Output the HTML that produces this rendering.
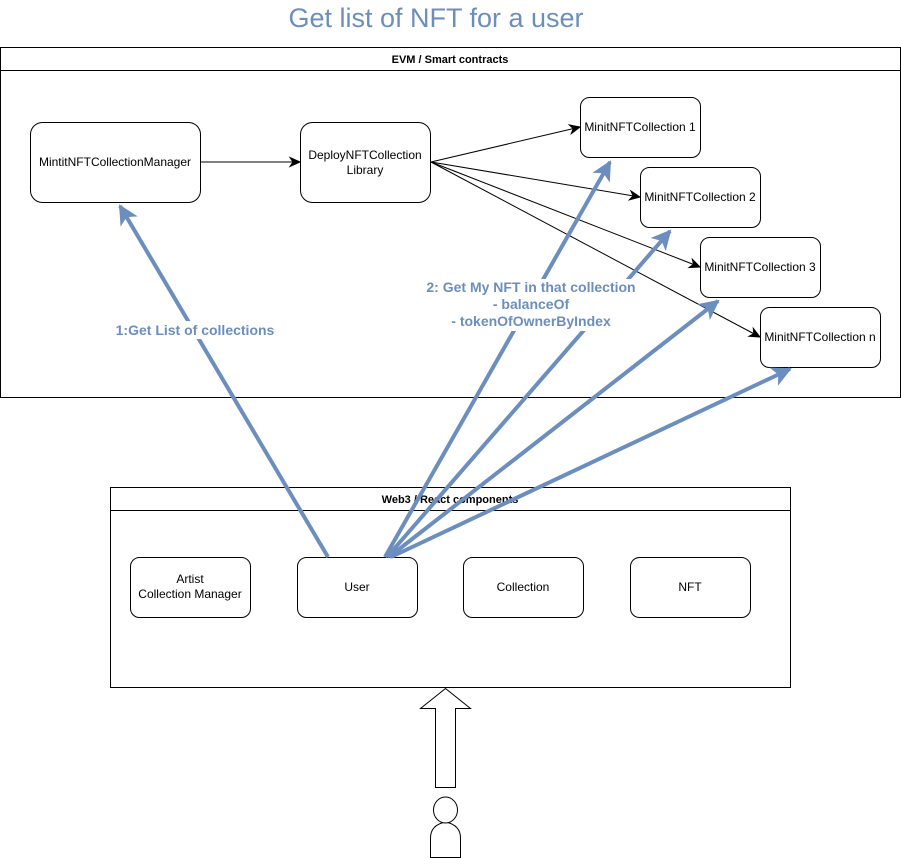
<!DOCTYPE html>
<html><head><meta charset="utf-8"><style>
html,body{margin:0;padding:0;background:#fff;}
svg{display:block;font-family:"Liberation Sans",Arial,sans-serif;}
</style></head><body>
<svg width="901" height="858" viewBox="0 0 901 858" xmlns="http://www.w3.org/2000/svg">
<defs>
<marker id="bk" markerUnits="userSpaceOnUse" markerWidth="12" markerHeight="12" refX="0" refY="0" viewBox="-11 -6 12 12" orient="auto" overflow="visible">
<path d="M0,0 L-10,-4.5 L-7,0 L-10,4.5 Z" fill="#000" stroke="#000" stroke-width="1"/>
</marker>
<marker id="bl" markerUnits="userSpaceOnUse" markerWidth="24" markerHeight="24" refX="0" refY="0" viewBox="-20 -12 24 24" orient="auto" overflow="visible">
<path d="M2,0 L-18,-10 L-13,0 L-18,10 Z" fill="#6c8ebf"/>
</marker>
</defs>
<text x="436" y="27" text-anchor="middle" font-size="27" fill="#6c8ebf">Get list of NFT for a user</text>

<rect x="0.5" y="47.5" width="900" height="350" fill="#fff" stroke="#000"/>
<line x1="0" y1="70.5" x2="901" y2="70.5" stroke="#000"/>
<text x="450" y="63" text-anchor="middle" font-size="11" font-weight="bold">EVM / Smart contracts</text>

<g fill="#fff" stroke="#000">
<rect x="30.5" y="122.5" width="170" height="80" rx="12"/>
<rect x="300.5" y="122.5" width="130" height="80" rx="12"/>
<rect x="580.5" y="97.5" width="120" height="60" rx="9"/>
<rect x="640.5" y="167.5" width="120" height="60" rx="9"/>
<rect x="700.5" y="237.5" width="120" height="60" rx="9"/>
<rect x="760.5" y="307.5" width="120" height="60" rx="9"/>
</g>
<g font-size="12" text-anchor="middle" fill="#000">
<text x="115" y="166">MintitNFTCollectionManager</text>
<text x="365" y="159">DeployNFTCollection</text>
<text x="365" y="174">Library</text>
<text x="640" y="131">MinitNFTCollection 1</text>
<text x="700" y="201">MinitNFTCollection 2</text>
<text x="760" y="271">MinitNFTCollection 3</text>
<text x="820" y="341">MinitNFTCollection n</text>
</g>
<g stroke="#000" stroke-width="1" marker-end="url(#bk)">
<line x1="200" y1="162" x2="300" y2="162"/>
<line x1="431" y1="162" x2="580" y2="127"/>
<line x1="431" y1="162" x2="640" y2="197"/>
<line x1="431" y1="162" x2="700" y2="267"/>
<line x1="431" y1="162" x2="760" y2="337"/>
</g>

<rect x="110.5" y="487.5" width="680" height="200" fill="#fff" stroke="#000"/>
<line x1="110" y1="510.5" x2="791" y2="510.5" stroke="#000"/>
<text x="450" y="503" text-anchor="middle" font-size="11" font-weight="bold">Web3 / React components</text>
<g fill="#fff" stroke="#000">
<rect x="130.5" y="557.5" width="120" height="60" rx="9"/>
<rect x="297.5" y="557.5" width="120" height="60" rx="9"/>
<rect x="463.5" y="557.5" width="120" height="60" rx="9"/>
<rect x="630.5" y="557.5" width="120" height="60" rx="9"/>
</g>
<g font-size="12" text-anchor="middle">
<text x="190" y="583">Artist</text>
<text x="190" y="598">Collection Manager</text>
<text x="357" y="591">User</text>
<text x="523" y="591">Collection</text>
<text x="690" y="591">NFT</text>
</g>

<g stroke="#6c8ebf" stroke-width="4" marker-end="url(#bl)">
<line x1="328" y1="557" x2="120" y2="206"/>
<line x1="385" y1="557" x2="610" y2="162"/>
<line x1="387" y1="557" x2="670" y2="231"/>
<line x1="389" y1="557" x2="718" y2="301"/>
<line x1="391" y1="557" x2="790" y2="369"/>
</g>
<rect x="113" y="321" width="164" height="18" fill="#fff"/>
<text x="195" y="335" text-anchor="middle" font-size="14" font-weight="bold" fill="#6c8ebf">1:Get List of collections</text>
<rect x="422" y="279" width="218" height="52" fill="#fff"/>
<g font-size="14" font-weight="bold" fill="#6c8ebf" text-anchor="middle">
<text x="531" y="292">2: Get My NFT in that collection</text>
<text x="531" y="309">- balanceOf</text>
<text x="531" y="326">- tokenOfOwnerByIndex</text>
</g>

<path d="M435.5,787.5 L455.5,787.5 L455.5,708.5 L470.5,708.5 L445.5,688.5 L420.5,708.5 L435.5,708.5 Z" fill="#fff" stroke="#000"/>
<path d="M430.5,857.5 L430.5,838 Q430.5,825 445.5,822 Q460.5,825 460.5,838 L460.5,857.5 Z" fill="#fff" stroke="#000"/>
<ellipse cx="445.5" cy="810" rx="12" ry="13" fill="#fff" stroke="#000"/>
</svg>
</body></html>
